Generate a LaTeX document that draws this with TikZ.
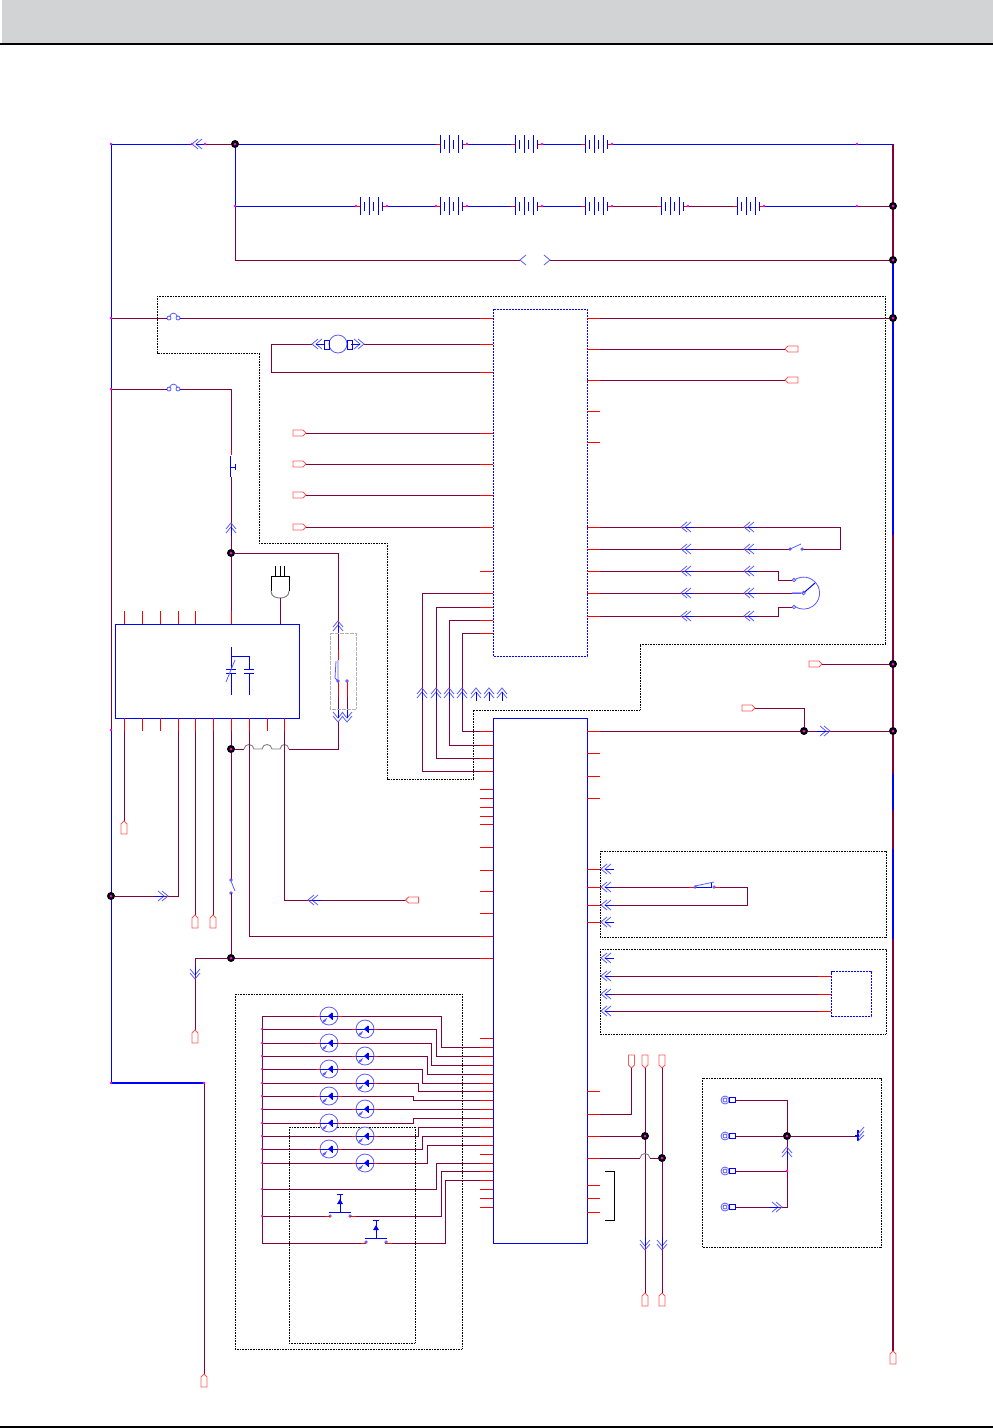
\documentclass[tikz,border=0pt]{standalone}
\definecolor{wirecol}{RGB}{128,0,64}
\definecolor{chevcol}{RGB}{90,90,255}
\definecolor{dotpink}{RGB}{255,0,255}
\definecolor{headgrey}{RGB}{209,211,212}
\definecolor{tipcol}{RGB}{255,90,90}
\tikzset{
  wire/.style={draw=wirecol,line width=.95pt},
  bluewire/.style={draw=blue,line width=1pt},
  redstub/.style={draw=red,line width=1pt},
  chevline/.style={draw=chevcol,line width=.8pt},
  dotbox/.style={draw=black,line width=.9pt,dash pattern=on 1pt off .6pt},
  icbox/.style={draw=blue,line width=1.1pt,anchor=north west,inner sep=0pt},
  junc/.style={circle,fill=black,minimum size=8pt,inner sep=0pt,
    path picture={\fill[dotpink] (path picture bounding box.center) circle (1.5);}},
  chevrons/.pic={
    \draw[chevline] (2,-5) -- (-4,0) -- (2,5);
    \draw[chevline] (6,-5) -- (0,0) -- (6,5);
    \draw[bluewire] (0,0) -- (9,0);
  },
  cablend/.pic={
    \draw[draw=tipcol,fill=white,line width=.9pt] (0,0) -- (-3,-3) -- (-13,-3) -- (-13,3) -- (-3,3) -- cycle;
  },
  battery/.pic={
    \fill[white] (-1,-4) rectangle (24,4);
    \draw[redstub] (-4,0) -- (0,0) (23,0) -- (27,0);
    \foreach \b in {0,9.3,18.3} \draw[bluewire] (\b,-9) -- (\b,9);
    \foreach \b in {4.7,13.7,22.7} \draw[bluewire] (\b,-4.5) -- (\b,4.5);
    \fill[dotpink] (27,0) circle (1.3);
  },
  fuselink/.pic={
    \draw[chevline] (-4.5,0) circle (2) (4.5,0) circle (2);
    \draw[chevline] (-4,-1.5) .. controls (-2,-6) and (2,-6) .. (4,-1.5);
    \draw[bluewire] (-8,0) -- (-6.5,0) (6.5,0) -- (8,0);
  },
  ledlamp/.pic={
    \draw[redstub] (-13,0) -- (-9,0) (9,0) -- (13,0);
    \draw[chevline,fill=white] (0,0) circle (9);
    \draw[bluewire] (-9,0) -- (9,0);
    \fill[blue] (-1,0) -- (3,-3.5) -- (3,3.5) -- cycle;
    \draw[bluewire] (3.5,-3.5) -- (3.5,3.5);
    \draw[chevline] (-2,2.5) -- (-6,5) (-3,4.5) -- (-7,7);
  },
  pushkey/.pic={
    \draw[chevline] (-10,4) circle (1.2) (10,4) circle (1.2);
    \draw[bluewire] (-11,0) -- (11,0) (0,0) -- (0,-18) (-3,-18) -- (3,-18);
    \fill[blue] (0,-13) -- (-3,-8) -- (3,-8) -- cycle;
  },
  ringport/.pic={
    \draw[chevline] (0,0) circle (4) (0,0) circle (2);
    \draw[bluewire] (4,-2.5) rectangle (10,2.5);
  }
}
\newcommand\cableend[3]{\coordinate (#1) at (#2); \pic[rotate=#3] at (#1) {cablend};}
\def\ulpins{318,344,372,433,464,495,527,571,593,607,620,633}
\def\urpins{318,349,380,411,442,527,549,571,593,616}
\def\llpins{731,745,758,771,789,798,807,816,824,847,870,891,913,936,958,1038,1047,1056,1065,1074,1083,1091,1100,1109,1118,1127,1136,1145,1154,1163,1171,1180,1189,1198,1207}
\def\lrpins{731,753,776,798,869,887,905,922,1091,1114,1136,1158,1185,1198,1212}
\begin{document}
\begin{tikzpicture}[x=1pt,y=-1pt]
\useasboundingbox (0,0) rectangle (993,1428);
\fill[headgrey] (2,0) rectangle (993,43);
\draw[line width=2pt] (0,44) -- (993,44);
\draw[line width=1.5pt] (0,1427) -- (993,1427);
\foreach \y in \ulpins \coordinate (ul\y) at (493,\y);
\foreach \y in \urpins \coordinate (ur\y) at (587,\y);
\foreach \y in \llpins \coordinate (ll\y) at (493,\y);
\foreach \y in \lrpins \coordinate (lr\y) at (587,\y);
\draw[blue,line width=2.6pt] (893,144) -- (893,1351);
\foreach \a/\b in {144/261,535/774,810/849,939/1351} \draw[wire,line width=1.7pt] (893,\a) -- (893,\b);
\draw[bluewire] (111,144) -- (111,389) (111,730) -- (111,1083);
\draw[wire] (111,389) -- (111,730);
\draw[blue,line width=1.8pt] (111,1083) -- (205,1083);
\foreach \n/\p in {jtop/{235,144},jr206/{893,206},jr260/{893,260},jr318/{893,318},jr664/{893,664},jr731/{893,731},jm731/{804,731},jl896/{111,896},jm553/{231,553},jm749/{231,749},jm958/{231,958},jp1136/{645,1136},jp1158/{662,1158},jg1136/{787,1136}}
  \node[junc] (\n) at (\p) {};
\draw[bluewire] (111,144) -- (192,144);
\draw[wire] (200,144) -- (jtop);
\pic at (196,144) {chevrons};
\draw[bluewire] (jtop) -- (893,144);
\foreach \x in {440,515,585} \pic at (\x,144) {battery};
\draw[bluewire] (jtop) -- (235,206) -- (jr206);
\draw[wire] (610,206) -- (661,206) (685,206) -- (737,206) (857,206) -- (jr206);
\foreach \x in {360,440,515,585,661,737} \pic at (\x,206) {battery};
\draw[wire] (235,206) |- (520,260);
\draw[wire] (550,260) -- (jr260);
\draw[chevline] (526,255) -- (520,260) -- (526,265) (544,255) -- (550,260) -- (544,265);
\draw[dotbox] (157,296) -- (885,296) -- (885,644) -- (640,644) -- (640,710) -- (473,710) -- (473,779) -- (387,779) -- (387,543) -- (259,543) -- (259,353) -- (157,353) -- cycle;
\draw[wire] (111,318) -- (167,318) (180,318) -- (ul318);
\pic at (173.5,318) {fuselink};
\draw[wire] (ur318) -- (jr318);
\draw[wire] (ul372) -- (271,372) -- (271,344) -- (312,344);
\draw[wire] (364,344) -- (ul344);
\pic at (316,344) {chevrons};
\pic[rotate=180] at (360,344) {chevrons};
\draw[chevline] (338,344) circle (9);
\draw[bluewire] (324,340) rectangle (329,349) (347,340) rectangle (352,349);
\foreach \y in {433,464,495,527} {
  \cableend{tl\y}{306,\y}{0}
  \draw[wire] (tl\y) -- (ul\y);
}
\cableend{tr349}{785,349}{180}
\cableend{tr380}{785,380}{180}
\draw[wire] (ur349) -- (tr349);
\draw[wire] (ur380) -- (tr380);
\draw[wire] (ur527) -- (840,527) -- (840,549) -- (802,549);
\draw[wire] (ur549) -- (790,549);
\draw[wire] (ur571) -- (778,571) -- (778,580) -- (792,580);
\draw[wire] (ur593) -- (792,593);
\draw[wire] (ur616) -- (778,616) -- (778,607) -- (792,607);
\foreach \y in {527,549,571,593,616} {
  \pic at (685,\y) {chevrons};
  \pic at (748,\y) {chevrons};
}
\draw[chevline] (790,549) circle (1.2) (802,549) circle (1.2) (790,549) -- (801,544);
\draw[bluewire] (792,593) -- (801,593) (803.5,593) -- (815,583);
\draw[chevline] (794,580) circle (1.8) (794,607) circle (1.8) (803.5,593) circle (1.8);
\draw[chevline] (794.4,580) arc (-125:123:16);
\draw[wire] (ul593) -- (422,593) -- (422,771) -- (ll771);
\draw[wire] (ul607) -- (436,607) -- (436,758) -- (ll758);
\draw[wire] (ul620) -- (449,620) -- (449,745) -- (ll745);
\draw[wire] (ul633) -- (462,633) -- (462,731) -- (ll731);
\foreach \x in {422,436,449,462,476,489,502} \pic[rotate=-90] at (\x,692) {chevrons};
\draw[wire] (lr731) -- (jm731);
\draw[wire] (jm731) -- (jr731);
\pic[rotate=180] at (826,731) {chevrons};
\cableend{tj664}{822,664}{0}
\draw[wire] (tj664) -- (jr664);
\cableend{tj708}{755,708}{0}
\draw[wire] (tj708) -- (804,708) -- (jm731);
\draw[wire] (111,389) -- (167,389) (180,389) -- (231,389) -- (231,455);
\pic at (173.5,389) {fuselink};
\draw[redstub] (231,450) -- (231,455) (231,477) -- (231,482);
\draw[wire] (231,477) -- (jm553);
\draw[blue,line width=.9pt] (230,456) -- (230,477) (230,467) -- (235,467) (235,464) -- (235,470);
\pic[rotate=-90] at (231,527) {chevrons};
\draw[wire] (jm553) -- (231,624);
\draw[wire] (jm553) -- (338,553) -- (338,660);
\draw[wire] (338,682) -- (338,711);
\draw[wire] (347,682) -- (347,711);
\draw[redstub] (338,650) -- (338,660) (338,682) -- (338,697) (347,682) -- (347,697);
\pic[rotate=-90] at (338,625) {chevrons};
\pic[rotate=90] at (338,718) {chevrons};
\pic[rotate=90] at (347,718) {chevrons};
\draw[draw=gray!60,line width=.8pt,dash pattern=on 2pt off .5pt] (330,633) rectangle (356,709);
\draw[chevline] (338,660) -- (338,681) -- (335,678) -- (336,661) (338,681) circle (1.3) (347,681) circle (1.3);
\draw[wire] (338,722) -- (338,749) -- (289,749);
\draw[draw=gray,line width=.9pt] (289,749) .. controls (288,743) and (281,743) .. (280,749) -- (272,749) .. controls (271,743) and (263,743) .. (262,749) -- (254,749) .. controls (253,743) and (245,743) .. (244,749);
\draw[wire] (244,749) -- (jm749);
\draw[draw=black,line width=1pt] (275,566) -- (275,576) (280,566) -- (280,576) (284,566) -- (284,576);
\draw[draw=black,line width=1pt] (271,591) -- (271,576) -- (289,576) -- (289,591);
\draw[draw=gray,line width=1pt] (271,591) .. controls (271,596) and (275,598) .. (280,598) .. controls (285,598) and (289,596) .. (289,591);
\draw[wire] (280,598) -- (280,624);
\node[icbox,minimum width=184pt,minimum height=94pt] (icpower) at (115,624) {};
\draw[bluewire] (231,647) -- (231,669) (231,673) -- (231,695) (231,656) -- (249,656) -- (249,669) (249,673) -- (249,695);
\draw[bluewire] (226,669) -- (236,669) (226,673) -- (236,673) (244,669) -- (254,669) (244,673) -- (254,673);
\draw[chevline] (226,682) -- (235,660);
\foreach \x in {124,142,160,178,195} \draw[redstub] (\x,611) -- (\x,624);
\draw[redstub] (231,611) -- (231,624);
\draw[wire] (124,731) -- (124,821);
\cableend{tb124}{124,821}{90}
\draw[wire] (jl896) -- (178,896) -- (178,731);
\pic[rotate=180] at (164,896) {chevrons};
\draw[wire] (195,731) -- (195,915);
\cableend{tb195}{195,915}{90}
\draw[wire] (213,731) -- (213,915);
\cableend{tb213}{213,915}{90}
\draw[wire] (231,731) -- (jm749);
\draw[wire] (jm749) -- (231,880);
\draw[chevline] (231,880) circle (1.2) (231,893) circle (1.2) (231,881) -- (235,891);
\draw[wire] (231,893) -- (jm958);
\draw[wire] (249,731) -- (249,936) -- (ll936);
\draw[wire] (284,731) -- (284,900) -- (405.6,900);
\pic at (312,900) {chevrons};
\cableend{tb900}{405.6,900}{180}
\draw[wire] (jm958) -- (ll958);
\draw[wire] (jm958) -- (195,958) -- (195,1030);
\pic[rotate=90] at (195,975) {chevrons};
\cableend{tb1030}{195,1030}{90}
\foreach \x in {124,142,160,178,195,213,231,249,267,284} \draw[redstub] (\x,718) -- (\x,731);
\draw[wire] (204,1083) -- (204,1374);
\cableend{tb1374}{204,1374}{90}
\cableend{tb1351}{893,1351}{90}
\draw[dotbox] (235,994) rectangle (462,1349);
\draw[dotbox] (289,1127) rectangle (415,1343);
\draw[wire] (262,1016) -- (262,1243);
\foreach \y/\xv/\p in {1016/441/1047,1029/436/1056,1043/431/1065,1056/427/1074,1069/422/1083,1083/418/1091,1096/413/1100,1109/413/1109,1123/413/1118,1136/418/1127,1149/422/1136,1163/427/1145,1189/436/1163}
  \draw[wire] (262,\y) -- (\xv,\y) -- (\xv,\p) -- (ll\p);
\foreach \y in {1016,1043,1069,1096,1123,1149} \pic at (329,\y) {ledlamp};
\foreach \y in {1029,1056,1083,1109,1136,1163} \pic at (365,\y) {ledlamp};
\draw[wire] (262,1216) -- (330,1216);
\draw[wire] (350,1216) -- (441,1216) -- (441,1171) -- (ll1171);
\draw[wire] (262,1243) -- (366,1243);
\draw[wire] (385,1243) -- (445,1243) -- (445,1180) -- (ll1180);
\pic at (340,1212) {pushkey};
\pic at (376,1238) {pushkey};
\draw[redstub] (325,1216) -- (330,1216) (350,1216) -- (356,1216) (361,1243) -- (366,1243) (386,1243) -- (392,1243);
\foreach \y in {1029,1043,1056,1069,1083,1096,1109,1123,1136,1149,1163,1189,1216}
  \fill[dotpink] (262,\y) circle (1.2);
\foreach \y in {869,887,905,922} \draw[redstub] (587,\y) -- (601,\y);
\draw[dotbox] (600,851) rectangle (886,937);
\draw[dotbox] (600,949) rectangle (886,1034);
\draw[wire] (605,887) -- (695,887);
\draw[wire] (714,887) -- (747,887) -- (747,905) -- (605,905);
\draw[redstub] (689,887) -- (695,887) (714,887) -- (720,887);
\draw[bluewire] (695,887) -- (711,887) -- (711,883);
\draw[chevline] (695,887) circle (1.2) (714,887) circle (1.2) (695,886) -- (714,882);
\foreach \y in {869,887,905,922,958,976,994,1011} \pic at (605,\y) {chevrons};
\node[icbox,dash pattern=on 1pt off .5pt,minimum width=40pt,minimum height=45pt] (iclcd) at (831,971) {};
\foreach \y in {976,994,1011} {
  \draw[wire] (612,\y) -- (831,\y);
  \draw[redstub] (818,\y) -- (831,\y);
}
\cableend{tt631}{631.5,1068}{-90}
\cableend{tt645}{645,1068}{-90}
\cableend{tt662}{662,1068}{-90}
\cableend{tb645}{645,1293}{90}
\cableend{tb662}{662,1293}{90}
\draw[wire] (lr1114) -- (631.5,1114) -- (tt631);
\draw[wire] (lr1136) -- (jp1136);
\draw[wire] (tt645) -- (jp1136);
\draw[wire] (jp1136) -- (tb645);
\draw[wire] (lr1158) -- (640,1158);
\draw[draw=gray,line width=.9pt] (640,1158) .. controls (641,1152) and (649,1152) .. (650,1158);
\draw[wire] (650,1158) -- (jp1158);
\draw[wire] (tt662) -- (jp1158);
\draw[wire] (jp1158) -- (tb662);
\pic[rotate=90] at (645,1246) {chevrons};
\pic[rotate=90] at (662,1246) {chevrons};
\draw[draw=black,line width=1pt] (605,1171) -- (614.5,1171) -- (614.5,1220) -- (605,1220);
\draw[dotbox] (702,1078) rectangle (881,1247);
\draw[wire] (735,1100) -- (787,1100) -- (jg1136);
\draw[wire] (735,1136) -- (jg1136);
\draw[wire] (jg1136) -- (855,1136);
\draw[wire] (jg1136) -- (787,1207) -- (735,1207);
\draw[wire] (735,1171) -- (787,1171);
\foreach \y in {1100,1136,1171,1207} \pic at (725,\y) {ringport};
\pic[rotate=-90] at (787,1151) {chevrons};
\pic[rotate=180] at (778,1207) {chevrons};
\draw[blue,line width=1.3pt] (855,1136) -- (858,1136) (858,1130) -- (858,1141);
\draw[chevline] (858,1134) -- (864,1127) (858,1138) -- (864,1131) (858,1141) -- (864,1135);
\node[icbox,dash pattern=on 1pt off .5pt,minimum width=94pt,minimum height=347pt] (icupper) at (493,309) {};
\node[icbox,minimum width=94pt,minimum height=525pt] (iclower) at (493,718) {};
\foreach \y in \ulpins \draw[redstub] (480,\y) -- (ul\y);
\foreach \y in \llpins \draw[redstub] (480,\y) -- (ll\y);
\foreach \y in \urpins \draw[redstub] (ur\y) -- (600,\y);
\foreach \y in \lrpins \draw[redstub] (lr\y) -- (600,\y);
\foreach \p in {{111,144},{192,144},{205,144},{235,206},{111,318},{111,389},{111,730},{111,1083},{204,1083},{356,206},{436,206},{857,144},{857,206},{787,1171}}
  \fill[dotpink] (\p) circle (1.3);
\end{tikzpicture}
\end{document}
